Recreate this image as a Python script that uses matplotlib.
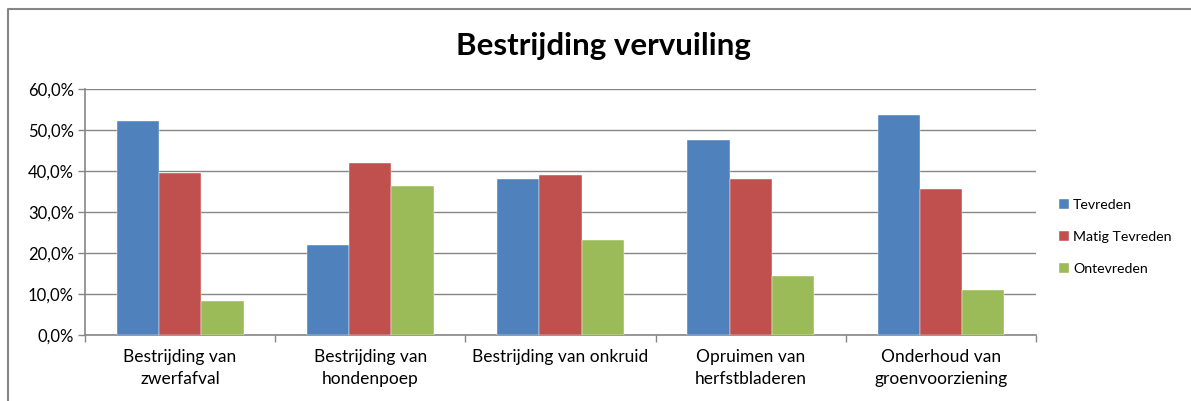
import numpy as np
import matplotlib
matplotlib.use('Agg')
import matplotlib.pyplot as plt
from matplotlib.ticker import FuncFormatter, FixedLocator
from matplotlib.lines import Line2D

categories = ['Bestrijding van\nzwerfafval', 'Bestrijding van\nhondenpoep',
              'Bestrijding van onkruid', 'Opruimen van\nherfstbladeren',
              'Onderhoud van\ngroenvoorziening']
series = ['Tevreden', 'Matig Tevreden', 'Ontevreden']
tevreden = [52.2, 22.0, 38.0, 47.6, 53.6]
matig = [39.5, 41.9, 39.1, 38.0, 35.6]
ontevreden = [8.4, 36.4, 23.1, 14.4, 11.0]
colors = ['#4f81bd', '#c0504d', '#9bbb59']

plt.rcParams['font.family'] = ['Lato', 'DejaVu Sans']

W, H = 1191, 401
fig = plt.figure(figsize=(W / 100, H / 100), dpi=100)
# outer chart border (only left and top visible)
fig.lines.append(Line2D([7.5 / W, 7.5 / W, 1.0], [0, 1 - 9 / H, 1 - 9 / H],
                        transform=fig.transFigure, color='#868686', lw=1.5, figure=fig))

ax = fig.add_axes([85 / W, (H - 335) / H, (1036 - 85) / W, (335 - 89) / H])
x = np.arange(len(categories))
w = 1 / 4.5
for i, (vals, name) in enumerate(zip([tevreden, matig, ontevreden], series)):
    ax.bar(x + (i - 1) * w, vals, w, color=colors[i], label=name, zorder=3,
           edgecolor='white', linewidth=0.3)

ax.set_xlim(-0.5, len(categories) - 0.5)
ax.set_ylim(0, 60)
ax.set_yticks(np.arange(0, 61, 10))
ax.yaxis.set_major_formatter(FuncFormatter(lambda v, p: f'{v:.1f}%'.replace('.', ',')))
ax.grid(axis='y', color='#868686', lw=1, zorder=0)

ax.set_xticks(x)
ax.set_xticklabels(categories, fontsize=12.5, linespacing=1.45)
ax.xaxis.set_minor_locator(FixedLocator(np.arange(-0.5, len(categories), 1)))
ax.tick_params(axis='x', which='major', length=0, pad=10)
ax.tick_params(axis='x', which='minor', length=5, color='#868686', width=1)
ax.tick_params(axis='y', length=5, color='#868686', width=1, labelsize=12, pad=3)

for s in ['top', 'right']:
    ax.spines[s].set_visible(False)
for s in ['left', 'bottom']:
    ax.spines[s].set_color('#868686')
    ax.spines[s].set_linewidth(1.2)

fig.text(603 / W, 1 - 46 / H, 'Bestrijding vervuiling', ha='center', va='center',
         fontsize=22.5, fontweight='bold')

ax.legend(loc='center left', bbox_to_anchor=(1046 / W, 1 - 237 / H), bbox_transform=fig.transFigure,
          frameon=False, fontsize=10.2, handlelength=0.7, handleheight=0.7,
          handletextpad=0.3, labelspacing=1.4)

fig.savefig('out.png', dpi=100)
